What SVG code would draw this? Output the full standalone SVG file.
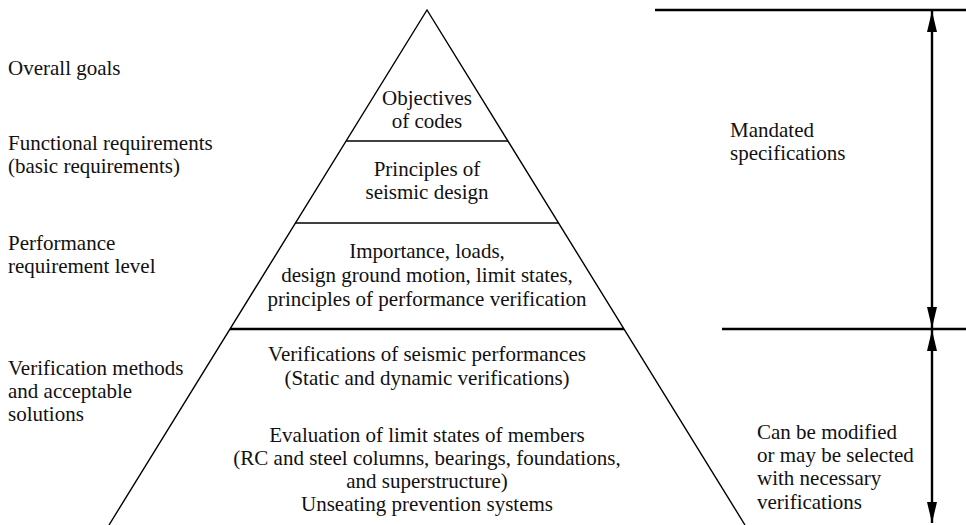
<svg xmlns="http://www.w3.org/2000/svg" width="966" height="525" viewBox="0 0 966 525">
<style>
text{font-family:'Liberation Serif','Times New Roman',Times,'DejaVu Serif',serif;font-size:21px;fill:#111}
.c{text-anchor:middle}
.thin{stroke:#000;stroke-width:1.4;fill:none}
.thick{stroke:#000;stroke-width:2.4;fill:none}
</style>
<defs>
<marker id="ah" markerUnits="userSpaceOnUse" markerWidth="22" markerHeight="12" refX="21" refY="5" orient="auto-start-reverse" viewBox="0 0 22 10">
<path d="M0,0 L21,5 L0,10 Z" fill="#000"/>
</marker>
</defs>
<rect width="966" height="525" fill="#fff"/>
<g id="pyramid">
<polyline class="thin" points="109,525 427,10 745,525"/>
<line class="thin" x1="346" y1="141" x2="508" y2="141"/>
<line class="thin" x1="295" y1="223" x2="559" y2="223"/>
<line class="thick" x1="230" y1="329" x2="624" y2="329"/>
</g>
<g font-family="Liberation Serif, Times New Roman, serif">
<g id="tier1">
<text class="c" x="427" y="105">Objectives</text>
<text class="c" x="427" y="128">of codes</text>
</g>
<g id="tier2">
<text class="c" x="427" y="176">Principles of</text>
<text class="c" x="427" y="199">seismic design</text>
</g>
<g id="tier3">
<text class="c" x="427" y="258">Importance, loads,</text>
<text class="c" x="427" y="282">design ground motion, limit states,</text>
<text class="c" x="427" y="306">principles of performance verification</text>
</g>
<g id="tier4">
<text class="c" x="427" y="361">Verifications of seismic performances</text>
<text class="c" x="427" y="385">(Static and dynamic verifications)</text>
<text class="c" x="427" y="442">Evaluation of limit states of members</text>
<text class="c" x="427" y="465">(RC and steel columns, bearings, foundations,</text>
<text class="c" x="427" y="488">and superstructure)</text>
<text class="c" x="427" y="511">Unseating prevention systems</text>
</g>
<g id="left-labels">
<text x="8" y="75">Overall goals</text>
<text x="8" y="150">Functional requirements</text>
<text x="8" y="173">(basic requirements)</text>
<text x="8" y="250">Performance</text>
<text x="8" y="273">requirement level</text>
<text x="8" y="375">Verification methods</text>
<text x="8" y="398">and acceptable</text>
<text x="8" y="421">solutions</text>
</g>
<g id="mandated">
<text x="730" y="137">Mandated</text>
<text x="730" y="160">specifications</text>
</g>
<g id="modifiable">
<text x="757" y="439">Can be modified</text>
<text x="757" y="462">or may be selected</text>
<text x="757" y="485">with necessary</text>
<text x="757" y="509">verifications</text>
</g>
</g>
<g id="connectors">
<line class="thick" x1="655" y1="10" x2="966" y2="10"/>
<line class="thick" x1="722" y1="329" x2="966" y2="329"/>
<line class="thick" x1="932" y1="11" x2="932" y2="328" marker-start="url(#ah)" marker-end="url(#ah)"/>
<line class="thick" x1="932" y1="330" x2="932" y2="523" marker-start="url(#ah)" marker-end="url(#ah)"/>
</g>
</svg>
